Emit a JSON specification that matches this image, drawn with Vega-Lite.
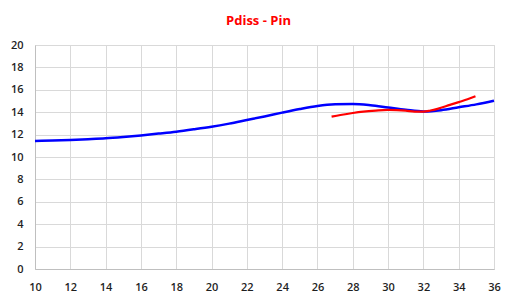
{
  "$schema": "https://vega.github.io/schema/vega-lite/v6.json",
  "width": 459,
  "height": 224,
  "autosize": {"type": "none"},
  "padding": {"left": 35, "top": 45, "right": 22, "bottom": 35},
  "background": "white",
  "title": {
    "text": "Pdiss - Pin",
    "color": "#FF0000",
    "font": "Open Sans",
    "fontSize": 13,
    "fontWeight": "bold",
    "anchor": "middle",
    "dx": -6,
    "offset": 11
  },
  "config": {
    "view": {"stroke": "#d9d9d9"},
    "axis": {
      "labelFont": "Open Sans",
      "labelFontSize": 11,
      "labelFontWeight": 600,
      "labelColor": "#1f1f1f",
      "labelOverlap": false,
      "labelFlush": false,
      "gridColor": "#d9d9d9",
      "gridWidth": 1,
      "domainColor": "#bfbfbf",
      "ticks": false,
      "title": null
    }
  },
  "datasets": {
    "blue": [
      {"x": 10, "y": 11.43}, {"x": 11, "y": 11.47}, {"x": 12, "y": 11.52}, {"x": 13, "y": 11.59},
      {"x": 14, "y": 11.67}, {"x": 15, "y": 11.79}, {"x": 16, "y": 11.93}, {"x": 17, "y": 12.09},
      {"x": 18, "y": 12.26}, {"x": 19, "y": 12.47}, {"x": 20, "y": 12.7}, {"x": 21, "y": 12.98},
      {"x": 22, "y": 13.3}, {"x": 23, "y": 13.62}, {"x": 24, "y": 13.96}, {"x": 25, "y": 14.28},
      {"x": 26, "y": 14.55}, {"x": 27, "y": 14.7}, {"x": 28, "y": 14.73}, {"x": 29, "y": 14.62},
      {"x": 30, "y": 14.42}, {"x": 31, "y": 14.22}, {"x": 32, "y": 14.07}, {"x": 33, "y": 14.18},
      {"x": 34, "y": 14.44}, {"x": 35, "y": 14.7}, {"x": 36, "y": 15.03}
    ],
    "red": [
      {"x": 26.8, "y": 13.6}, {"x": 27.3, "y": 13.75}, {"x": 28, "y": 13.93}, {"x": 28.6, "y": 14.05},
      {"x": 29.3, "y": 14.14}, {"x": 30, "y": 14.2}, {"x": 31, "y": 14.14}, {"x": 31.5, "y": 14.06},
      {"x": 32, "y": 14.05}, {"x": 32.4, "y": 14.15}, {"x": 32.8, "y": 14.3}, {"x": 33.5, "y": 14.65},
      {"x": 34, "y": 14.9}, {"x": 34.5, "y": 15.15}, {"x": 34.95, "y": 15.42}
    ]
  },
  "encoding": {
    "x": {"field": "x", "type": "quantitative", "scale": {"domain": [10, 36], "nice": false},
      "axis": {"values": [10,12,14,16,18,20,22,24,26,28,30,32,34,36], "labelPadding": 12}},
    "y": {"field": "y", "type": "quantitative", "scale": {"domain": [0, 20], "nice": false},
      "axis": {"values": [0,2,4,6,8,10,12,14,16,18,20], "labelPadding": 12}}
  },
  "layer": [
    {
      "data": {"name": "blue"},
      "mark": {"type": "line", "color": "#0000FF", "strokeWidth": 2.5, "interpolate": "monotone"}
    },
    {
      "data": {"name": "red"},
      "mark": {"type": "line", "color": "#FF0000", "strokeWidth": 2.2, "interpolate": "monotone"}
    }
  ]
}
